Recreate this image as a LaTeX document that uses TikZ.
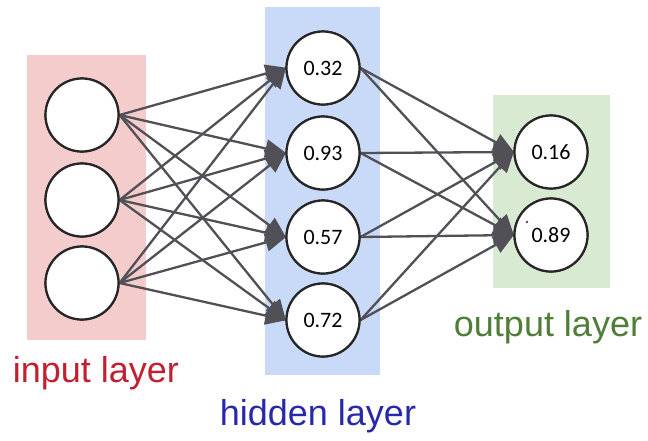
\documentclass[tikz,border=0pt]{standalone}
\usepackage{fontspec}
\setmainfont{Liberation Sans}
\newfontfamily\labelfont{Liberation Sans}
\newfontfamily\numfont{Carlito}
\usetikzlibrary{arrows.meta}
\definecolor{inbg}{RGB}{244,204,204}
\definecolor{hidbg}{RGB}{201,218,248}
\definecolor{outbg}{RGB}{217,234,211}
\definecolor{edgegray}{RGB}{80,80,86}
\definecolor{inlabel}{RGB}{192,32,48}
\definecolor{hidlabel}{RGB}{40,40,170}
\definecolor{outlabel}{RGB}{80,125,55}
\tikzset{
  neuron/.style={circle, draw=black!85, line width=2.2pt, fill=white,
    minimum size=73pt, inner sep=0pt, font=\numfont\fontsize{22}{22}\selectfont},
  link/.style={draw=edgegray, line width=2.3pt,
    -{Triangle[length=21pt,width=18pt]}, shorten >=-1pt},
  layerlabel/.style={font=\labelfont\fontsize{36}{36}\selectfont, inner sep=0pt}
}
\begin{document}
\begin{tikzpicture}[x=1pt,y=-1pt]
\useasboundingbox (0,0) rectangle (648,440);
% layer bands
\fill[inbg]  (27,55)  rectangle (146,340);
\fill[hidbg] (265,7)  rectangle (380,375);
\fill[outbg] (493,95) rectangle (610,288);
% input neurons
\node[neuron] (i1) at (82,115) {};
\node[neuron] (i2) at (82,200) {};
\node[neuron] (i3) at (82,283) {};
% hidden neurons
\node[neuron] (h1) at (323,68)  {0.32};
\node[neuron] (h2) at (323,153) {0.93};
\node[neuron] (h3) at (323,237) {0.57};
\node[neuron] (h4) at (323,320) {0.72};
% output neurons
\node[neuron] (o1) at (551,152) {0.16};
\node[neuron] (o2) at (551,235) {0.89};
% connections
\foreach \a in {1,2,3}
  \foreach \b in {1,2,3,4}
    \draw[link] (i\a.east) -- (h\b.west);
\foreach \a in {1,2,3,4}
  \foreach \b in {1,2}
    \draw[link] (h\a.east) -- (o\b.west);
% redraw neurons on top of the connections
\foreach \n/\x/\y/\t in {i1/82/115/,i2/82/200/,i3/82/283/,
    h1/323/68/0.32,h2/323/153/0.93,h3/323/237/0.57,h4/323/320/0.72,
    o1/551/152/0.16,o2/551/235/0.89}
  \node[neuron] at (\x,\y) {\t};
\fill[black!70] (527,222) circle (1.3);
% labels
\node[layerlabel, text=inlabel]  (lin)  at (96,373)  {input layer};
\node[layerlabel, text=hidlabel] (lhid) at (318,416) {hidden layer};
\node[layerlabel, text=outlabel] (lout) at (548,327) {output layer};
\end{tikzpicture}
\end{document}
